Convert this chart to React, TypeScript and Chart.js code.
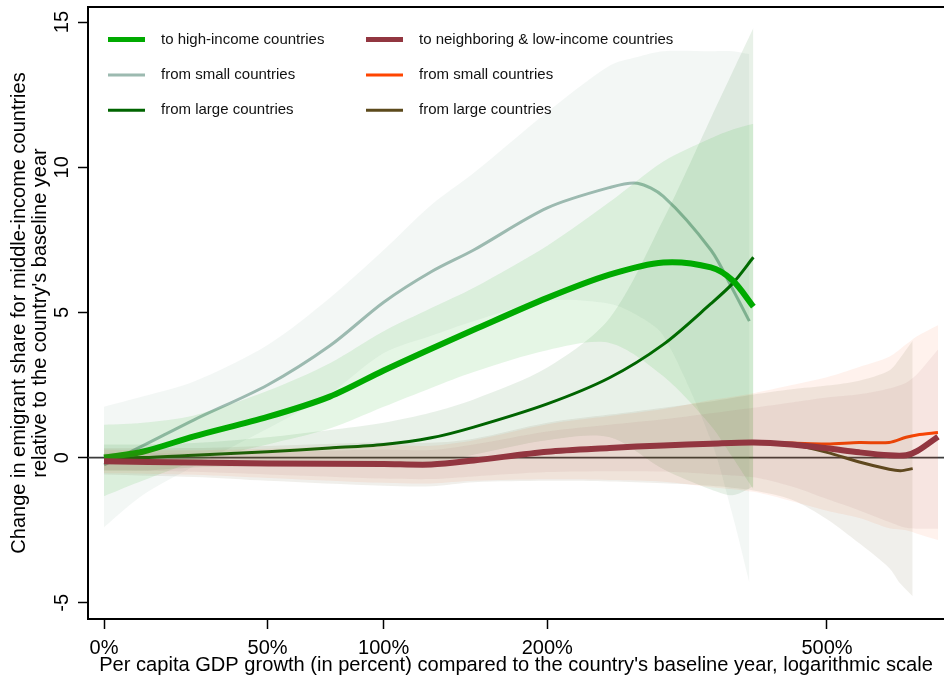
import React, { useEffect, useRef } from 'react';
import { Chart, registerables } from 'chart.js';

Chart.register(...registerables);

const FONT = '"Liberation Sans", Arial, Helvetica, sans-serif';

// Per capita GDP growth (percent) at which each smoothed curve is evaluated
const highGrowth = [0, 10, 25, 50, 75, 100, 125, 150, 200, 250, 300, 350, 375, 400];
const smallGrowth = [0, 10, 25, 50, 75, 100, 125, 150, 200, 250, 275, 300, 350, 375, 395];
const lowGrowth = [0, 25, 50, 100, 125, 150, 200, 250, 300, 350, 400, 450, 500, 550, 600, 630, 650, 690];
const lowLargeGrowth = [0, 25, 50, 100, 125, 150, 200, 250, 300, 350, 400, 450, 500, 550, 600, 620, 642];

// Emigration to high-income countries
const highAll = [0.0, 0.2, 0.73, 1.4, 2.1, 3.0, 3.75, 4.4, 5.5, 6.3, 6.72, 6.55, 6.1, 5.2];
const highAllUpper = [1.13, 1.2, 1.45, 2.3, 3.25, 4.35, 5.15, 5.85, 7.3, 8.8, 10.2, 11.0, 11.3, 11.5];
const highAllLower = [-1.33, -0.8, -0.15, 0.45, 1.0, 1.75, 2.4, 2.95, 3.7, 3.95, 2.8, 1.1, 0.0, -1.1];

const highSmall = [-0.25, 0.4, 1.3, 2.5, 3.85, 5.35, 6.4, 7.15, 8.6, 9.3, 9.45, 9.0, 7.15, 5.8, 4.7];
const highSmallUpper = [1.75, 2.1, 2.62, 3.88, 5.5, 7.15, 8.7, 9.8, 11.9, 13.5, 13.8, 14.0, 14.0, 14.0, 13.9];
const highSmallLower = [-2.4, -1.3, -0.3, 1.0, 2.2, 3.6, 4.2, 4.7, 5.4, 5.3, 4.9, 4.2, 0.6, -2.0, -4.3];

const highLarge = [0.0, 0.0, 0.08, 0.2, 0.33, 0.45, 0.68, 1.05, 1.85, 2.75, 3.9, 5.3, 6.0, 6.9];
const highLargeUpper = [0.45, 0.45, 0.5, 0.7, 0.95, 1.2, 1.55, 2.0, 3.1, 4.8, 8.2, 11.7, 13.3, 14.8];
const highLargeLower = [-0.45, -0.45, -0.34, -0.3, -0.29, -0.3, -0.19, 0.1, 0.6, 0.7, -0.4, -1.1, -1.3, -1.0];

// Emigration to neighboring & low-income countries
const lowAll = [-0.13, -0.17, -0.2, -0.22, -0.24, -0.1, 0.2, 0.33, 0.42, 0.48, 0.52, 0.45, 0.32, 0.18, 0.08, 0.08, 0.22, 0.72];
const lowAllUpper = [0.17, 0.15, 0.18, 0.28, 0.26, 0.45, 0.9, 1.13, 1.32, 1.53, 1.72, 1.9, 2.07, 2.18, 2.38, 2.58, 2.87, 3.72];
const lowAllLower = [-0.43, -0.49, -0.58, -0.72, -0.74, -0.65, -0.5, -0.47, -0.48, -0.57, -0.68, -1.0, -1.43, -1.82, -2.22, -2.42, -2.45, -2.45];

const lowSmall = [-0.13, -0.17, -0.2, -0.22, -0.24, -0.1, 0.2, 0.33, 0.42, 0.48, 0.52, 0.5, 0.47, 0.52, 0.52, 0.7, 0.78, 0.86];
const lowSmallUpper = [0.27, 0.25, 0.3, 0.43, 0.41, 0.6, 1.15, 1.43, 1.67, 1.98, 2.22, 2.5, 2.77, 3.12, 3.47, 3.9, 4.18, 4.56];
const lowSmallLower = [-0.53, -0.59, -0.7, -0.87, -0.89, -0.8, -0.75, -0.77, -0.83, -1.02, -1.18, -1.5, -1.83, -2.08, -2.43, -2.5, -2.62, -2.84];

const lowLarge = [-0.13, -0.17, -0.2, -0.22, -0.24, -0.1, 0.2, 0.33, 0.42, 0.48, 0.52, 0.45, 0.18, -0.15, -0.4, -0.45, -0.38];
const lowLargeUpper = [0.32, 0.33, 0.4, 0.53, 0.51, 0.65, 1.2, 1.48, 1.72, 1.93, 2.17, 2.35, 2.48, 2.65, 3.0, 3.45, 4.02];
const lowLargeLower = [-0.58, -0.67, -0.8, -0.97, -0.99, -0.85, -0.8, -0.82, -0.88, -0.97, -1.13, -1.45, -2.12, -2.95, -3.8, -4.35, -4.78];

// Axis ticks
const X_TICKS = [0, 50, 100, 200, 500];
const Y_TICKS = [-5, 0, 5, 10, 15];

// Legend labels
const LEGEND_HIGH = ['to high-income countries', 'from small countries', 'from large countries'];
const LEGEND_LOW = ['to neighboring & low-income countries', 'from small countries', 'from large countries'];

const C_MAIN_GREEN = '#00AA00';
const C_SMALL_GRAY = '#9CBAB0';
const C_LARGE_GREEN = '#006400';
const C_MAIN_RED = '#923640';
const C_SMALL_ORANGE = '#FF4500';
const C_LARGE_BROWN = '#5C4A1C';

const pts = (growth: number[], vals: number[]) =>
  growth.map((g, i) => ({ x: 1 + g / 100, y: vals[i] }));

const band = (growth: number[], lower: number[], upper: number[], fill: string) => [
  {
    data: pts(growth, lower),
    borderColor: 'rgba(0,0,0,0)',
    borderWidth: 1,
    pointRadius: 0,
    fill: false,
  },
  {
    data: pts(growth, upper),
    borderColor: 'rgba(0,0,0,0)',
    borderWidth: 1,
    pointRadius: 0,
    backgroundColor: fill,
    fill: '-1',
  },
];

const curve = (growth: number[], vals: number[], color: string, width: number) => ({
  data: pts(growth, vals),
  borderColor: color,
  borderWidth: width,
  borderJoinStyle: 'round' as const,
  pointRadius: 0,
  fill: false,
});

// Listed from bottom layer to top layer
const layers: any[] = [
  ...band(smallGrowth, highSmallLower, highSmallUpper, 'rgba(156,186,176,0.12)'),
  curve(smallGrowth, highSmall, C_SMALL_GRAY, 3),
  ...band(highGrowth, highLargeLower, highLargeUpper, 'rgba(0,100,0,0.09)'),
  curve(highGrowth, highLarge, C_LARGE_GREEN, 3),
  ...band(highGrowth, highAllLower, highAllUpper, 'rgba(0,170,0,0.1)'),
  curve(highGrowth, highAll, C_MAIN_GREEN, 6),
  ...band(lowGrowth, lowSmallLower, lowSmallUpper, 'rgba(255,90,30,0.08)'),
  curve(lowGrowth, lowSmall, C_SMALL_ORANGE, 3),
  ...band(lowLargeGrowth, lowLargeLower, lowLargeUpper, 'rgba(92,74,28,0.09)'),
  curve(lowLargeGrowth, lowLarge, C_LARGE_BROWN, 3),
  ...band(lowGrowth, lowAllLower, lowAllUpper, 'rgba(146,54,64,0.07)'),
  curve(lowGrowth, lowAll, C_MAIN_RED, 6),
];
layers.forEach((d, i) => {
  d.order = layers.length - i;
});

const framePlugin = {
  id: 'frame',
  beforeDatasetsDraw(chart: any) {
    const { ctx, chartArea: a, scales } = chart;
    const y0 = scales.y.getPixelForValue(0);
    ctx.save();
    ctx.strokeStyle = '#3c3c3c';
    ctx.lineWidth = 1.6;
    ctx.beginPath();
    ctx.moveTo(a.left, y0);
    ctx.lineTo(a.right, y0);
    ctx.stroke();
    ctx.restore();
  },
  afterDraw(chart: any) {
    const { ctx, chartArea: a } = chart;
    ctx.save();
    ctx.strokeStyle = '#000';
    ctx.lineWidth = 2;
    ctx.beginPath();
    ctx.moveTo(a.left - 1, a.top);
    ctx.lineTo(a.right, a.top);
    ctx.stroke();
    ctx.restore();
  },
};

const legendPlugin = {
  id: 'cornerLegend',
  afterDraw(chart: any) {
    const { ctx, chartArea: a } = chart;
    const cols = [
      { labels: LEGEND_HIGH, colors: [C_MAIN_GREEN, C_SMALL_GRAY, C_LARGE_GREEN], x: a.left + 20 },
      { labels: LEGEND_LOW, colors: [C_MAIN_RED, C_SMALL_ORANGE, C_LARGE_BROWN], x: a.left + 278 },
    ];
    ctx.save();
    ctx.font = `15px ${FONT}`;
    ctx.textBaseline = 'middle';
    ctx.textAlign = 'left';
    cols.forEach((col) => {
      col.labels.forEach((label, r) => {
        const y = a.top + 32.5 + r * 35.4;
        ctx.strokeStyle = col.colors[r];
        ctx.lineWidth = r === 0 ? 5 : 3;
        ctx.beginPath();
        ctx.moveTo(col.x, y);
        ctx.lineTo(col.x + 37, y);
        ctx.stroke();
        ctx.fillStyle = '#111';
        ctx.fillText(label, col.x + 53, y);
      });
    });
    ctx.restore();
  },
};

export default function App() {
  const ref = useRef<HTMLCanvasElement>(null);

  useEffect(() => {
    const canvas = ref.current;
    if (!canvas) return;
    const chart = new Chart(canvas, {
      type: 'line',
      data: { datasets: layers },
      options: {
        animation: false,
        responsive: false,
        devicePixelRatio: 1,
        elements: { line: { tension: 0.3 } },
        layout: { padding: { top: 7, right: 0, bottom: 0, left: 0 } },
        plugins: {
          legend: { display: false },
          tooltip: { enabled: false },
          title: { display: false },
        },
        scales: {
          x: {
            type: 'logarithmic',
            min: 0.9611,
            max: 8.019,
            afterBuildTicks: (scale: any) => {
              scale.ticks = X_TICKS.map((g) => ({ value: 1 + g / 100 }));
            },
            afterFit: (scale: any) => {
              scale.height = 59;
              scale.paddingLeft = 0;
              scale.paddingRight = 0;
            },
            border: { display: true, color: '#000', width: 2 },
            grid: {
              display: true,
              drawOnChartArea: false,
              drawTicks: true,
              tickLength: 10,
              tickColor: '#000',
              tickWidth: 1.5,
            },
            ticks: {
              autoSkip: false,
              maxRotation: 0,
              minRotation: 0,
              padding: 7,
              color: '#000',
              font: { family: FONT, size: 20, lineHeight: 1.2 },
              callback: (v: any) => `${Math.round((Number(v) - 1) * 100)}%`,
            },
            title: {
              display: true,
              text: "Per capita GDP growth (in percent) compared to the country's baseline year, logarithmic scale",
              color: '#000',
              font: { family: FONT, size: 20.1, lineHeight: 1.2 },
              padding: { top: 0, bottom: 0 },
            },
          },
          y: {
            type: 'linear',
            min: -5.56,
            max: 15.52,
            afterBuildTicks: (scale: any) => {
              scale.ticks = Y_TICKS.map((v) => ({ value: v }));
            },
            afterFit: (scale: any) => {
              scale.width = 88;
              scale.paddingTop = 0;
              scale.paddingBottom = 0;
            },
            border: { display: true, color: '#000', width: 2 },
            grid: {
              display: true,
              drawOnChartArea: false,
              drawTicks: true,
              tickLength: 10,
              tickColor: '#000',
              tickWidth: 1.5,
            },
            ticks: {
              autoSkip: false,
              minRotation: 90,
              maxRotation: 90,
              crossAlign: 'center',
              padding: 4,
              color: '#000',
              font: { family: FONT, size: 20, lineHeight: 1.2 },
            },
            title: {
              display: true,
              text: [
                'Change in emigrant share for middle-income countries',
                "relative to the country's baseline year",
              ],
              color: '#000',
              font: { family: FONT, size: 20, lineHeight: 1.05 },
              padding: { top: 8.5, bottom: 0 },
            },
          },
        },
      } as any,
      plugins: [framePlugin, legendPlugin],
    });
    return () => chart.destroy();
  }, []);

  return (
    <div style={{ position: 'fixed', left: 0, top: 0, width: 944, height: 678, background: '#fff' }}>
      <canvas ref={ref} width={944} height={678} style={{ display: 'block', width: 944, height: 678 }} />
    </div>
  );
}
